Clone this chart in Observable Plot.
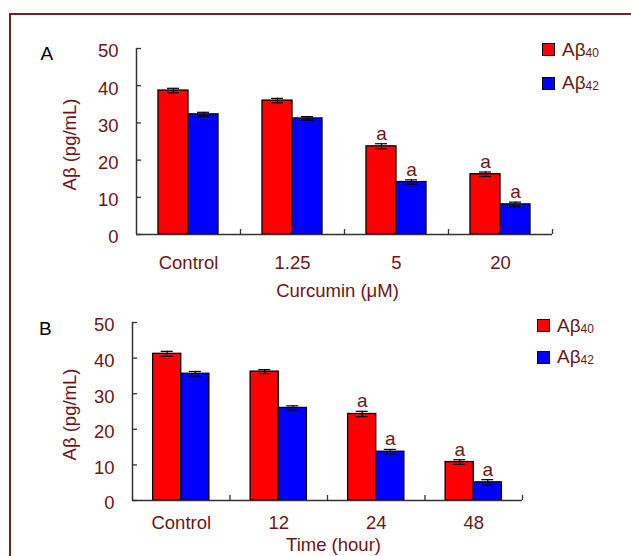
<!DOCTYPE html>
<html><head><meta charset="utf-8">
<script src="https://cdn.jsdelivr.net/npm/d3@7"></script>
<script src="https://cdn.jsdelivr.net/npm/@observablehq/plot@0.6"></script>
<style>
html,body{margin:0;padding:0;background:#fff;overflow:hidden;width:631px;height:556px;}
#wrap{position:relative;width:631px;height:556px;overflow:hidden;font-family:"Liberation Sans",Arial,sans-serif;}
#frame{position:absolute;left:9px;top:13px;width:700px;height:700px;border:2px solid #7a1c22;box-sizing:border-box;}
.panel{position:absolute;left:0;}
.sw{position:absolute;width:13px;height:13px;box-sizing:border-box;border:1.5px solid #000;}
.lt{position:absolute;font-size:19px;line-height:19px;color:#6f1515;white-space:nowrap;}
.lt span{font-size:12px;position:relative;top:1px;}
.letter{position:absolute;font-size:19px;line-height:19px;color:#000;}
</style></head>
<body><div id="wrap"><div id="frame"></div></div>
<script>
// ---- data ----
const seriesNames = ["Aβ40", "Aβ42"];
const seriesColors = ["#ff0000", "#0000ff"];
const yTicks = [0, 10, 20, 30, 40, 50];
const yTitle = "Aβ (pg/mL)";

const catsA = ["Control", "1.25", "5", "20"];
const ab40A = [38.7, 36.0, 23.7, 16.2];
const ab42A = [32.3, 31.2, 14.1, 8.1];
const err40A = [0.6, 0.6, 0.7, 0.6];
const err42A = [0.55, 0.5, 0.6, 0.6];
const sig40A = ["", "", "a", "a"];
const sig42A = ["", "", "a", "a"];
const xTitleA = "Curcumin (μM)";

const catsB = ["Control", "12", "24", "48"];
const ab40B = [41.2, 36.2, 24.3, 10.8];
const ab42B = [35.6, 26.0, 13.7, 5.1];
const err40B = [0.7, 0.55, 0.75, 0.65];
const err42B = [0.65, 0.6, 0.65, 0.75];
const sig40B = ["", "", "a", "a"];
const sig42B = ["", "", "a", "a"];
const xTitleB = "Time (hour)";

const TXT = "#6f1515";
const BW = 30 / 104; // bar width as fraction of category band

function rowsOf(cats, v40, v42, e40, e42, s40, s42) {
  const rows = [];
  [[v40, e40, s40], [v42, e42, s42]].forEach(([v, e, s], k) => {
    cats.forEach((c, i) => {
      const x1 = k === 0 ? i + 0.5 - BW : i + 0.5;
      rows.push({series: seriesNames[k], cat: c, v: v[i], e: e[i], sig: s[i],
        x1, x2: x1 + BW, xc: x1 + BW / 2});
    });
  });
  return rows;
}

function panel(cfg) {
  const rows = rowsOf(...cfg.data);
  const cats = cfg.data[0];
  return Plot.plot({
    width: 631, height: cfg.height,
    marginTop: cfg.mt, marginBottom: cfg.mb, marginLeft: cfg.ml, marginRight: cfg.mr,
    style: {background: "transparent", fontFamily: '"Liberation Sans", Arial, sans-serif', fontSize: "18.5px", color: TXT},
    x: {domain: [0, cats.length]},
    y: {domain: [0, 50]},
    color: {domain: seriesNames, range: seriesColors},
    marks: [
      Plot.rect(rows, {x1: "x1", x2: "x2", y1: 0, y2: "v", fill: "series", stroke: "#000", strokeWidth: 1.3}),
      Plot.ruleX(rows, {x: "xc", y1: d => d.v - d.e, y2: d => d.v + d.e, stroke: "#000", strokeWidth: 1.2}),
      Plot.ruleY(rows, {x1: "xc", x2: "xc", y: d => d.v + d.e, insetLeft: -6, insetRight: -6, stroke: "#000", strokeWidth: 1.2}),
      Plot.ruleY(rows, {x1: "xc", x2: "xc", y: d => d.v - d.e, insetLeft: -6, insetRight: -6, stroke: "#000", strokeWidth: 1.2}),
      Plot.text(rows.filter(d => d.sig), {x: "xc", y: d => d.v + d.e, text: "sig", dy: -4, lineAnchor: "bottom", fill: TXT, fontSize: 19}),
      // axis lines
      Plot.ruleX([0], {stroke: "#333", strokeWidth: 1.5}),
      Plot.ruleY([0], {stroke: "#333", strokeWidth: 1.5}),
      // inward ticks
      Plot.ruleX(d3.range(1, cats.length + 1), {y1: 0, y2: 0, insetTop: -5, stroke: "#333", strokeWidth: 1.3}),
      Plot.ruleY(yTicks, {x1: 0, x2: 0, insetRight: -5, stroke: "#333", strokeWidth: 1.3}),
      Plot.axisY({ticks: yTicks, tickSize: 0, tickPadding: 18, dy: 3, label: null, fill: TXT}),
      Plot.axisX({ticks: cats.map((c, i) => i + 0.5), tickFormat: d => cats[Math.floor(d)], tickSize: 0, tickPadding: cfg.xpad, label: null, fill: TXT}),
      Plot.text([cfg.xTitle], {x: cats.length / 2, y: 0, text: d => d, dy: cfg.xtDy, dx: cfg.xtDx, lineAnchor: "top", fill: TXT, fontSize: 18.5}),
      Plot.text([yTitle], {x: 0, y: 25, text: d => d, rotate: -90, dx: cfg.ytDx, dy: 3, fill: TXT, fontSize: 18.5})
    ]
  });
}

const wrap = document.getElementById("wrap");

const pA = panel({data: [catsA, ab40A, ab42A, err40A, err42A, sig40A, sig42A], xTitle: xTitleA,
  height: 305, mt: 48, mb: 71, ml: 136, mr: 79, xpad: 21, xtDy: 49, xtDx: -7, ytDx: -66});
pA.classList.add("panel"); pA.style.top = "0px";
wrap.appendChild(pA);

const pB = panel({data: [catsB, ab40B, ab42B, err40B, err42B, sig40B, sig42B], xTitle: xTitleB,
  height: 251, mt: 17, mb: 56, ml: 132, mr: 109, xpad: 15, xtDy: 37.5, xtDx: 6, ytDx: -62});
pB.classList.add("panel"); pB.style.top = "305px";
wrap.appendChild(pB);

// legends and panel letters
function legend(left, tops, textTops) {
  seriesNames.forEach((n, k) => {
    const sw = document.createElement("div");
    sw.className = "sw";
    sw.style.left = left + "px"; sw.style.top = tops[k] + "px";
    sw.style.background = seriesColors[k];
    wrap.appendChild(sw);
    const t = document.createElement("div");
    t.className = "lt";
    t.style.left = (left + 20) + "px"; t.style.top = textTops[k] + "px";
    t.innerHTML = n.slice(0, 2) + "<span>" + n.slice(2) + "</span>";
    wrap.appendChild(t);
  });
}
legend(542, [43, 77], [40, 72.5]);
legend(537, [319, 351], [315.5, 346.5]);

function letter(ch, left, top) {
  const d = document.createElement("div");
  d.className = "letter"; d.textContent = ch;
  d.style.left = left + "px"; d.style.top = top + "px";
  wrap.appendChild(d);
}
letter("A", 40.5, 44.3);
letter("B", 39, 319.3);
</script>
</body></html>
